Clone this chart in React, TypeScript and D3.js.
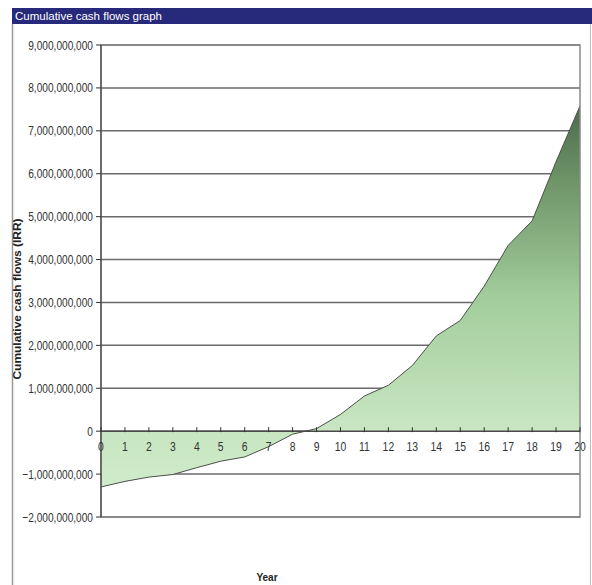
import * as d3 from "d3"

// Cumulative cash flows per year (IRR)
const years = [0, 1, 2, 3, 4, 5, 6, 7, 8, 9, 10, 11, 12, 13, 14, 15, 16, 17, 18, 19, 20]
const cashFlows = [
  -1.3e9, -1.17e9, -1.07e9, -1.01e9, -0.85e9, -0.7e9, -0.6e9, -0.36e9, -0.07e9, 0.06e9,
  0.39e9, 0.82e9, 1.07e9, 1.53e9, 2.22e9, 2.58e9, 3.38e9, 4.33e9, 4.9e9, 6.28e9, 7.58e9,
]
const yTicks = [-2e9, -1e9, 0, 1e9, 2e9, 3e9, 4e9, 5e9, 6e9, 7e9, 8e9, 9e9]

const W = 592
const H = 585
const plot = { left: 101, right: 580, top: 45, bottom: 517 }
const sans = "'Liberation Sans', Arial, sans-serif"

export default function App() {
  const x = d3.scaleLinear().domain([0, 20]).range([plot.left, plot.right])
  const y = d3.scaleLinear().domain([-2e9, 9e9]).range([plot.bottom, plot.top])

  const pts = years.map((yr, i) => [yr, cashFlows[i]] as [number, number])
  const area = d3
    .area<[number, number]>()
    .x((d) => x(d[0]))
    .y0(y(0))
    .y1((d) => y(d[1]))
  const line = d3
    .line<[number, number]>()
    .x((d) => x(d[0]))
    .y((d) => y(d[1]))

  const fmt = d3.format(",")

  return (
    <svg
      width={W}
      height={H}
      style={{ position: "absolute", left: 0, top: 0, background: "#fff" }}
    >
      <defs>
        <linearGradient id="fillG" gradientUnits="userSpaceOnUse" x1="0" y1={y(7.6e9)} x2="0" y2={y(-1.3e9)}>
          <stop offset="0" stopColor="#4c6a4a" />
          <stop offset="0.2" stopColor="#6e9468" />
          <stop offset="0.5" stopColor="#a2cc9b" />
          <stop offset="0.83" stopColor="#c6e5c0" />
          <stop offset="1" stopColor="#d0ebca" />
        </linearGradient>
      </defs>

      {/* title bar */}
      <rect x={12} y={8} width={W - 12} height={16} fill="#27297a" />
      <text x={15} y={20} fill="#fff" fontFamily={sans} fontSize={11.5}>
        Cumulative cash flows graph
      </text>
      <line x1={12.5} x2={12.5} y1={24} y2={H} stroke="#999" strokeWidth={1.5} />
      <line x1={590.5} x2={590.5} y1={24} y2={H} stroke="#bbb" strokeWidth={1} />

      {/* gridlines */}
      {yTicks.map((t) => (
        <line
          key={t}
          x1={plot.left}
          x2={plot.right}
          y1={y(t)}
          y2={y(t)}
          stroke={t === 0 ? "#555" : "#6a6a6a"}
          strokeWidth={1.5}
        />
      ))}

      {/* area */}
      <path d={area(pts) ?? ""} fill="url(#fillG)" />
      <path d={line(pts) ?? ""} fill="none" stroke="#4a5148" strokeWidth={1} />

      {/* plot border */}
      <rect
        x={plot.left}
        y={plot.top}
        width={plot.right - plot.left}
        height={plot.bottom - plot.top}
        fill="none"
        stroke="#888"
        strokeWidth={1.5}
      />
      <line x1={plot.left} x2={plot.left} y1={plot.top} y2={plot.bottom} stroke="#333" strokeWidth={1} />
      <line x1={plot.left} x2={plot.right} y1={y(0)} y2={y(0)} stroke="#4a4a4a" strokeWidth={1.5} />

      {/* y axis ticks and labels */}
      {yTicks.map((t) => (
        <g key={"yt" + t}>
          <line x1={plot.left - 5} x2={plot.left} y1={y(t)} y2={y(t)} stroke="#333" />
          <text
            transform={`translate(${plot.left - 8},${y(t)}) scale(0.78,1)`}
            dy="0.35em"
            textAnchor="end"
            fontFamily={sans}
            fontSize={13}
            fill="#333"
          >
            {fmt(t)}
          </text>
        </g>
      ))}

      {/* x axis ticks and labels */}
      {years.map((yr) => (
        <g key={"xt" + yr}>
          <line x1={x(yr)} x2={x(yr)} y1={y(0) - 4} y2={y(0) + 1} stroke="#333" />
          <text
            transform={`translate(${x(yr)},${y(0) + 20}) scale(0.8,1)`}
            textAnchor="middle"
            fontFamily={sans}
            fontSize={13}
            fill="#333"
          >
            {yr}
          </text>
        </g>
      ))}

      {/* axis titles */}
      <text
        transform={`translate(21,299) rotate(-90) scale(1,0.85)`}
        textAnchor="middle"
        fontFamily={sans}
        fontWeight="bold"
        fontSize={12}
        fill="#222"
      >
        Cumulative cash flows (IRR)
      </text>
      <text
        x={267}
        y={581}
        textAnchor="middle"
        fontFamily={sans}
        fontWeight="bold"
        fontSize={10}
        fill="#222"
      >
        Year
      </text>
    </svg>
  )
}
